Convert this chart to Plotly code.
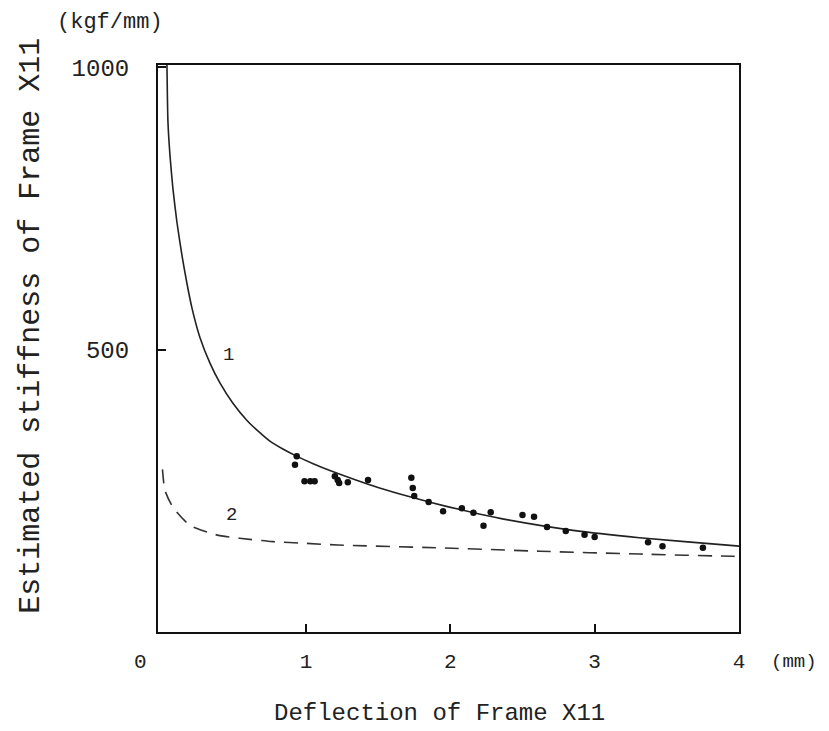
import plotly.graph_objects as go

# Curve 1 (solid)
curve1_x = [0.037, 0.044, 0.058, 0.078, 0.106, 0.141, 0.175, 0.21, 0.265, 0.335, 0.404, 0.494,
            0.59, 0.667, 0.75, 0.84, 0.938, 1.05, 1.166, 1.51, 1.74, 1.98, 2.2, 2.39, 2.85, 3.31, 3.96, 4.0]
curve1_y = [1004, 903, 844, 786, 726, 667, 618, 574, 522, 476, 441, 405,
            375, 356, 338, 324, 311, 298, 286, 255, 238, 222, 209, 199, 180, 167, 153, 152]

# Curve 2 (dashed)
curve2_x = [0.006, 0.023, 0.078, 0.196, 0.38, 0.54, 0.77, 1.0, 1.22, 1.93, 2.62, 3.31, 3.96, 4.0]
curve2_y = [288, 251, 221, 189, 172, 166, 160, 157, 154, 149, 143, 138, 134, 134]

# Measured points
pts_x = [0.936, 0.924, 0.99, 1.03, 1.06, 1.20, 1.22, 1.23, 1.29, 1.43, 1.73, 1.74, 1.75, 1.85,
         1.95, 2.08, 2.16, 2.23, 2.28, 2.50, 2.58, 2.67, 2.80, 2.93, 3.00, 3.37, 3.47, 3.75]
pts_y = [311, 296, 267, 267, 267, 276, 269, 264, 265, 269, 273, 255, 241, 230,
         214, 219, 211, 188, 212, 207, 204, 186, 179, 172, 168, 159, 152, 149]

x_tickvals = [1, 2, 3, 4]
x_ticktext = ["1", "2", "3", "4"]
y_tickvals = [500, 1000]
y_ticktext = ["500", "1000"]

FONT = "Liberation Mono"

fig = go.Figure()
fig.add_trace(go.Scatter(x=curve1_x, y=curve1_y, mode="lines",
                         line=dict(color="#222", width=1.6, shape="spline", smoothing=0.6),
                         showlegend=False, hoverinfo="skip"))
fig.add_trace(go.Scatter(x=curve2_x, y=curve2_y, mode="lines",
                         line=dict(color="#333", width=1.6, dash="14px,9px", shape="spline", smoothing=0.6),
                         showlegend=False, hoverinfo="skip"))
fig.add_trace(go.Scatter(x=pts_x, y=pts_y, mode="markers", marker=dict(color="#111", size=6.5),
                         showlegend=False))

fig.update_layout(
    width=829, height=731,
    margin=dict(l=158, r=90, t=65, b=99),
    paper_bgcolor="white", plot_bgcolor="white",
    font=dict(family=FONT, color="#222"),
    xaxis=dict(range=[-0.025, 4.0], showgrid=False, zeroline=False, showline=True, mirror=True,
               linecolor="#111", linewidth=2, ticks="inside", ticklen=8, tickwidth=2, tickcolor="#111",
               tickvals=x_tickvals, ticktext=x_ticktext, tickfont=dict(size=21, family=FONT),
               ticklabelstandoff=9),
    yaxis=dict(range=[0, 1004], showgrid=False, zeroline=False, showline=True, mirror=True,
               linecolor="#111", linewidth=2, ticks="inside", ticklen=8, tickwidth=2, tickcolor="#111",
               tickvals=y_tickvals, ticktext=y_ticktext, tickfont=dict(size=24, family=FONT),
               ticklabelstandoff=22),
)

annos = [
    dict(text="0", x=-0.025, y=0, xref="x", yref="y", xshift=-18, yshift=-30, yanchor="middle",
         showarrow=False, font=dict(size=21, family=FONT)),
    dict(text="(mm)", x=1.0, y=0, xref="paper", yref="paper", xanchor="left", yanchor="middle",
         xshift=30, yshift=-30, showarrow=False, font=dict(size=19, family=FONT)),
    dict(text="(kgf/mm)", x=0, y=1, xref="paper", yref="paper", xanchor="center", yanchor="middle",
         xshift=-48, yshift=43, showarrow=False, font=dict(size=22, family=FONT)),
    dict(text="Deflection of Frame X11", x=0.485, y=0, xref="paper", yref="paper", yanchor="middle",
         yshift=-81, showarrow=False, font=dict(size=24, family=FONT)),
    dict(text="Estimated stiffness of Frame X11", x=0, y=0.54, xref="paper", yref="paper", xshift=-127,
         xanchor="center", textangle=-90, showarrow=False, font=dict(size=30, family=FONT)),
    dict(text="1", x=0.46, y=490, xref="x", yref="y", showarrow=False, font=dict(size=19, family=FONT)),
    dict(text="2", x=0.487, y=207, xref="x", yref="y", showarrow=False, font=dict(size=19, family=FONT)),
]
fig.update_layout(annotations=annos)

fig.write_html("out.html")
